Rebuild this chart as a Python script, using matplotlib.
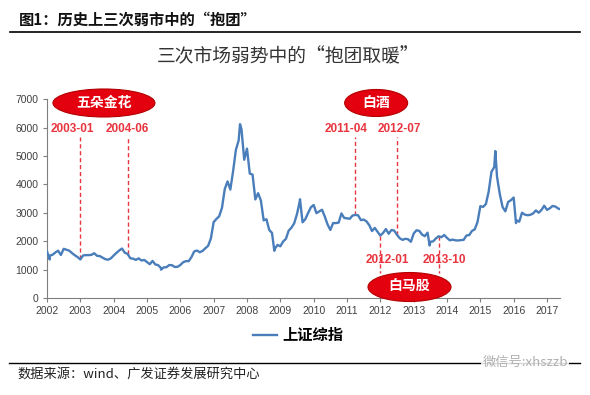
import numpy as np
import matplotlib
matplotlib.use("Agg")
import matplotlib.pyplot as plt
from matplotlib.patches import Ellipse

plt.rcParams['font.family'] = ['Noto Sans CJK SC', 'DejaVu Sans']

# monthly closes of the Shanghai Composite, Jan 2002 - May 2017
years = list(range(2002, 2018))
monthly_close = [
    [1491, 1524, 1603, 1667, 1515, 1732, 1699, 1669, 1581, 1507, 1442, 1357],
    [1500, 1511, 1510, 1521, 1576, 1487, 1477, 1421, 1367, 1349, 1397, 1497],
    [1590, 1675, 1742, 1595, 1555, 1399, 1386, 1342, 1396, 1320, 1340, 1266],
    [1191, 1306, 1181, 1159, 1060, 1080, 1083, 1162, 1155, 1092, 1099, 1161],
    [1258, 1299, 1298, 1440, 1642, 1672, 1612, 1658, 1752, 1837, 2099, 2675],
    [2786, 2881, 3183, 3841, 4109, 3821, 4471, 5218, 5552, 5954, 4871, 5262],
    [4383, 4348, 3473, 3693, 3433, 2736, 2775, 2397, 2293, 1729, 1871, 1821],
    [1991, 2082, 2373, 2477, 2633, 2959, 3412, 2667, 2779, 2996, 3195, 3277],
    [2989, 3051, 3110, 2871, 2592, 2398, 2638, 2639, 2656, 2979, 2820, 2808],
    [2791, 2905, 2928, 2912, 2743, 2762, 2701, 2568, 2359, 2468, 2333, 2199],
    [2293, 2429, 2263, 2397, 2373, 2226, 2103, 2048, 2086, 2069, 1980, 2269],
    [2385, 2366, 2237, 2178, 2301, 1979, 1994, 2098, 2175, 2142, 2220, 2116],
    [2033, 2056, 2033, 2026, 2039, 2048, 2202, 2217, 2364, 2420, 2683, 3235],
    [3210, 3310, 3748, 4442, 4612, 4277, 3664, 3206, 3053, 3383, 3445, 3539],
    [2738, 2688, 3004, 2938, 2917, 2930, 2979, 3085, 3005, 3100, 3250, 3104],
    [3159, 3242, 3223, 3155, 3117],
]
# intra-month extremes (fractional year, level)
extreme_dates = [2002.0, 2002.08, 2005.42, 2007.79, 2008.82, 2009.59, 2013.48, 2015.45, 2016.07]
extreme_vals = [1646, 1358, 998, 6124, 1664, 3478, 1849, 5178, 2638]

# "hugging" periods
upper_labels = ['2003-01', '2004-06', '2011-04', '2012-07']
lower_labels = ['2012-01', '2013-10']
groups = ['五朵金花', '白酒', '白马股']

series_name = '上证综指'
title = '三次市场弱势中的“抱团取暖”'
header = '图1：历史上三次弱市中的“抱团”'
source = '数据来源：wind、广发证券发展研究中心'


def to_year(label):
    y, m = label.split('-')
    return int(y) + (int(m) - 1) / 12.0


dates = []
vals = []
for y, row in zip(years, monthly_close):
    for m, v in enumerate(row, start=1):
        dates.append(y + m / 12.0)
        vals.append(v)
dates = np.array(dates + extreme_dates)
vals = np.array(vals + extreme_vals)
order = np.argsort(dates)
dates, vals = dates[order], vals[order]

W, H = 590, 395
fig = plt.figure(figsize=(W / 100, H / 100), dpi=100)
ax = fig.add_axes([47 / W, 1 - 298 / H, (560 - 47) / W, (298 - 99.3) / H])

blue = '#4a7ebb'
red = '#e8353f'
ax.plot(dates, vals, color=blue, lw=1.7, zorder=3)

ax.set_xlim(2002, 2017.39)
ax.set_ylim(0, 7000)
ax.set_xticks(years)
ax.set_yticks(np.arange(0, 7001, 1000))
for s in ['top', 'right']:
    ax.spines[s].set_visible(False)
for s in ['left', 'bottom']:
    ax.spines[s].set_color('#7f7f7f')
    ax.spines[s].set_linewidth(0.8)
ax.tick_params(length=3, width=0.8, color='#7f7f7f', labelsize=7.5,
               labelcolor='#404040', pad=3)
for lab in ax.get_xticklabels() + ax.get_yticklabels():
    lab.set_family(['Liberation Sans', 'DejaVu Sans'])

# dashed markers and date labels
up_x = [to_year(l) for l in upper_labels]
lo_x = [to_year(l) for l in lower_labels]
up_off = [-6, 0, -7, 2]
lo_off = [5, 4]
for x, lab, off in zip(up_x, upper_labels, up_off):
    yv = np.interp(x, dates, vals)
    ax.plot([x, x], [yv, 5680], color=red, lw=1, ls=(0, (3, 2)), zorder=2)
    ax.annotate(lab, (x, 5960), xytext=(off, 0), textcoords='offset points',
                ha='center', va='center', color=red, fontsize=8.5,
                fontweight='bold', family=['Liberation Sans', 'DejaVu Sans'])
for x, lab, off in zip(lo_x, lower_labels, lo_off):
    yv = np.interp(x, dates, vals)
    ax.plot([x, x], [yv, 880], color=red, lw=1, ls=(0, (3, 2)), zorder=2)
    ax.annotate(lab, (x, 1350), xytext=(off, 0), textcoords='offset points',
                ha='center', va='center', color=red, fontsize=8.5,
                fontweight='bold', family=['Liberation Sans', 'DejaVu Sans'])

# group ellipses (sizes given in pixels, converted to data units)
px_year = (560 - 47) / (2017.39 - 2002)
px_per_1000 = (298 - 99.3) / 7.0
ell_x = [np.mean(up_x[:2]), np.mean(up_x[2:]), np.mean(lo_x)]
ell_y = [6870, 6870, 387]
ell_w = [102, 63, 83]
ell_h = [28, 27, 29]
for x, y, w, h, name in zip(ell_x, ell_y, ell_w, ell_h, groups):
    e = Ellipse((x, y), w / px_year, h / px_per_1000 * 1000,
                fc='#e3000f', ec='#b30000', lw=0.8, clip_on=False, zorder=5)
    ax.add_patch(e)
    ax.text(x, y, name, ha='center', va='center', color='white', fontsize=10,
            fontweight='bold', zorder=6, clip_on=False)

# header, title, legend, source
fig.text(19 / W, 1 - 20 / H, header, fontsize=11, fontweight='bold',
         ha='left', va='center', color='#111111')
fig.add_artist(plt.Line2D([10 / W, 580 / W], [1 - 32 / H] * 2, color='black', lw=1.2))
fig.text(288 / W, 1 - 57 / H, title, fontsize=13.5, ha='center', va='center',
         color='#333333')
fig.legend(ax.get_lines()[:1], [series_name], loc='center',
           bbox_to_anchor=(298 / W, 1 - 335 / H), frameon=False,
           handlelength=1.6, handletextpad=0.3,
           prop={'size': 11, 'weight': 'bold'})
fig.add_artist(plt.Line2D([9 / W, 580 / W], [1 - 362.7 / H] * 2, color='black', lw=1.0))
fig.text(17 / W, 1 - 374 / H, source, fontsize=9.5, ha='left', va='center',
         color='#222222')
fig.text(568 / W, 1 - 362 / H, '微信号:xhszzb', fontsize=9.5, ha='right',
         va='center', color='#b0b0b0',
         bbox=dict(fc='white', ec='none', pad=1, alpha=0.85))

fig.savefig('out.png', dpi=100)
